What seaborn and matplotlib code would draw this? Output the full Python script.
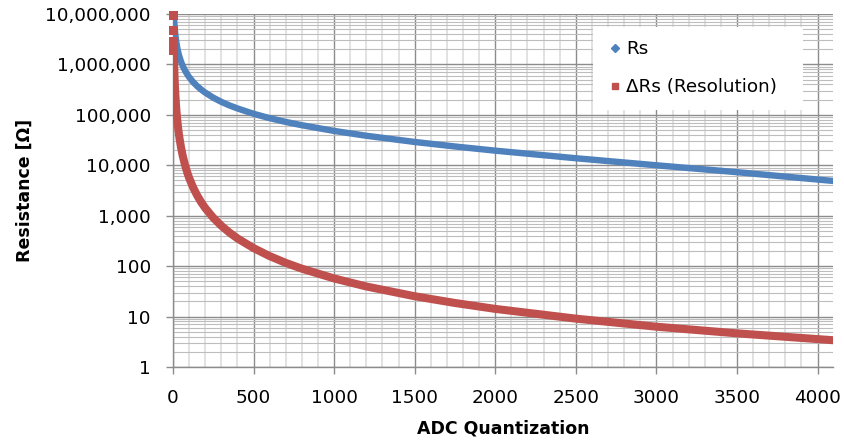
import matplotlib
matplotlib.use("Agg")
import matplotlib.pyplot as plt
import seaborn as sns
import pandas as pd
from matplotlib.ticker import FuncFormatter, LogLocator, MultipleLocator, FixedLocator
from matplotlib.lines import Line2D

# ---- data ----
adc = [5, 6, 7, 8, 10, 12, 15, 20, 25, 30, 35, 40, 50, 60, 75, 90, 100, 125, 150, 175,
       200, 250, 300, 350, 400, 500, 600, 700, 800, 1000, 1200, 1500, 1750, 2000, 2500,
       3000, 3500, 4095]
rs = [11391000, 9491000, 8134000, 7116000, 5691000, 4741000, 3791000, 2841000, 2271000,
      1891000, 1620000, 1416000, 1131000, 941000, 751000, 624000, 561000, 447000, 371000,
      317000, 276000, 219000, 181000, 154000, 134000, 105000, 86000, 72400, 62300, 48000,
      38500, 29000, 23600, 19500, 13800, 10000, 7300, 4900]
delta_rs = [1900000, 1357000, 1018000, 792000, 518000, 365000, 237500, 135700, 87700,
            61300, 45200, 34800, 22400, 15600, 10000, 6960, 5640, 3620, 2520, 1850,
            1418, 909, 632, 464, 355, 228, 158, 116, 89, 57, 39.5, 25.3, 18.6, 14.2, 9.1,
            6.3, 4.65, 3.4]
# first (separated) resolution points at low ADC codes
adc_first = [2, 3, 4, 5]
delta_rs_first = [9500000, 4750000, 2850000, 1900000]

series_names = ["Rs", "\u0394Rs (Resolution)"]
x_ticks = [0, 500, 1000, 1500, 2000, 2500, 3000, 3500, 4000]
y_ticks = [1, 10, 100, 1000, 10000, 100000, 1000000, 10000000]

blue = "#4F81BD"
red = "#C0504D"
major_grid = "#8c8c8c"
fs = 13.2

sns.set_style("white")
plt.rcParams["font.family"] = ["DejaVu Sans"]
plt.rcParams["text.color"] = "black"
plt.rcParams["axes.labelcolor"] = "black"

fig = plt.figure(figsize=(8.45, 4.48), dpi=100)
ax = fig.add_axes([173 / 845, 1 - 367 / 448, 660 / 845, 353 / 448])

df_rs = pd.DataFrame({"adc": adc, "value": rs})
df_drs = pd.DataFrame({"adc": adc, "value": delta_rs})
df_first = pd.DataFrame({"adc": adc_first, "value": delta_rs_first})

sns.lineplot(data=df_rs, x="adc", y="value", ax=ax, color=blue, linewidth=4.6,
             solid_capstyle="round", zorder=3, legend=False)
sns.lineplot(data=df_drs, x="adc", y="value", ax=ax, color=red, linewidth=5.8,
             solid_capstyle="round", zorder=4, legend=False)
sns.scatterplot(data=df_first, x="adc", y="value", ax=ax, color=red, marker="s",
                s=42, edgecolor="none", zorder=5, legend=False, clip_on=False)

ax.set_yscale("log")
ax.set_ylim(1, 1e7)
ax.set_xlim(0, 4096)

ax.yaxis.set_major_locator(FixedLocator(y_ticks))
ax.yaxis.set_minor_locator(LogLocator(base=10, subs=range(2, 10)))
ax.yaxis.set_major_formatter(FuncFormatter(lambda v, p: f"{v:,.0f}"))
ax.xaxis.set_major_locator(FixedLocator(x_ticks))
ax.xaxis.set_minor_locator(MultipleLocator(100))

ax.grid(which="major", axis="both", color=major_grid, linewidth=1.0, zorder=1)
ax.grid(which="minor", axis="y", color="#bdbdbd", linewidth=0.8, zorder=1)
ax.grid(which="minor", axis="x", color="#e2e2e2", linewidth=1.4, zorder=0.5)
ax.set_axisbelow(True)

for s in ["top", "right"]:
    ax.spines[s].set_visible(False)
for s in ["left", "bottom"]:
    ax.spines[s].set_color(major_grid)
    ax.spines[s].set_linewidth(1.0)

ax.tick_params(which="major", direction="out", length=5, width=1, color=major_grid,
               labelsize=fs, labelcolor="black", pad=11, bottom=True, left=True)
ax.tick_params(which="minor", length=0, bottom=False, left=False)

ax.set_xlabel("ADC Quantization", fontsize=12.5, fontweight="bold", labelpad=9,
              color="black")
ax.set_ylabel("Resistance [\u03a9]", fontsize=12.5, fontweight="bold", labelpad=8,
              color="black")

handles = [
    Line2D([], [], linestyle="none", marker="D", markersize=4, color=blue),
    Line2D([], [], linestyle="none", marker="s", markersize=5, color=red),
]
leg = ax.legend(handles, series_names, loc="upper left",
                bbox_to_anchor=((593 - 173) / 660, (367 - 27) / 353, 210 / 660, 0.0),
                mode="expand",
                fontsize=fs, frameon=True, fancybox=False, borderpad=0.72,
                labelspacing=1.1, handlelength=1.0, handletextpad=0.1,
                borderaxespad=0)
leg.get_frame().set_facecolor("white")
leg.get_frame().set_edgecolor("none")
leg.get_frame().set_alpha(1)
for t in leg.get_texts():
    t.set_color("black")

fig.savefig("out.png", dpi=100)
